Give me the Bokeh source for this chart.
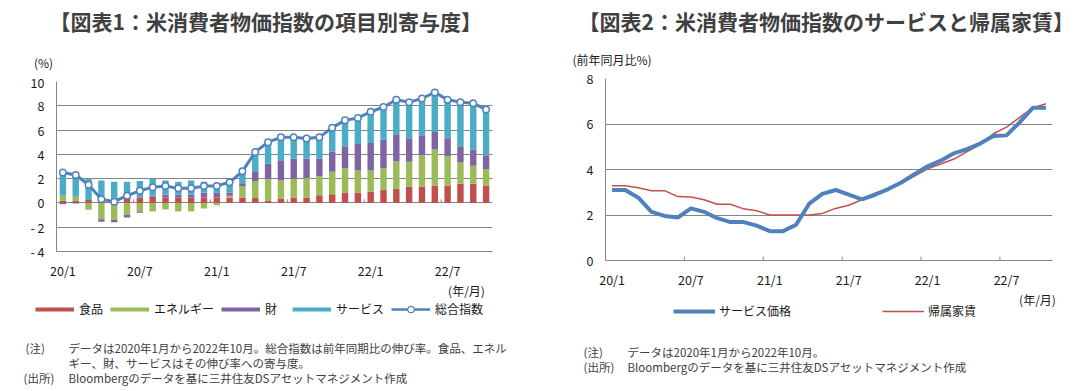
import numpy as np
from bokeh.plotting import figure
from bokeh.models import Range1d, FixedTicker, Label, Legend, LegendItem, Title
from bokeh.layouts import row, column
from bokeh.embed import file_html
from bokeh.resources import INLINE

# ---------------- data ----------------
tick_labels = ["20/1", "20/7", "21/1", "21/7", "22/1", "22/7"]
months = [f"{y}/{m}" for y in (20, 21, 22) for m in range(1, 13)][:34]

food = [0.2, 0.2, 0.25, 0.15, 0.45, 0.5, 0.45, 0.5, 0.45, 0.45, 0.45, 0.45,
        0.45, 0.45, 0.45, 0.4, 0.2, 0.37, 0.45, 0.45, 0.64, 0.72, 0.85, 0.85,
        0.93, 1.09, 1.17, 1.33, 1.33, 1.44, 1.44, 1.57, 1.57, 1.44]
energy = [0.4, 0.3, -0.5, -1.35, -1.4, -1.0, -0.7, -0.7, -0.55, -0.7, -0.7, -0.45,
          -0.2, 0.15, 0.9, 1.4, 1.75, 1.47, 1.55, 1.6, 1.55, 1.84, 2.0, 1.82,
          1.74, 1.76, 2.27, 2.06, 2.59, 2.96, 2.43, 1.76, 1.5, 1.36]
goods = [-0.1, -0.05, -0.05, -0.2, -0.2, -0.2, -0.1, 0.1, 0.25, 0.25, 0.25, 0.4,
         0.4, 0.25, 0.2, 0.8, 1.3, 1.68, 1.65, 1.6, 1.46, 1.68, 1.82, 2.18,
         2.26, 2.35, 2.21, 1.94, 1.65, 1.44, 1.46, 1.34, 1.33, 1.12]
services = [1.9, 1.8, 1.75, 1.7, 1.3, 1.25, 1.35, 1.4, 1.15, 1.05, 1.15, 0.9,
            0.75, 0.85, 1.05, 1.6, 1.75, 1.73, 1.68, 1.52, 1.79, 1.81, 2.05, 2.14,
            2.51, 2.59, 2.85, 2.91, 3.07, 3.23, 3.12, 3.68, 3.92, 3.79]
cpi = [2.5, 2.3, 1.5, 0.3, 0.1, 0.6, 1.0, 1.3, 1.4, 1.2, 1.2, 1.4,
       1.4, 1.7, 2.6, 4.2, 5.0, 5.4, 5.4, 5.3, 5.4, 6.2, 6.8, 7.0,
       7.5, 7.9, 8.5, 8.3, 8.6, 9.1, 8.5, 8.3, 8.2, 7.7]

service_price = [3.1, 3.1, 2.76, 2.14, 1.96, 1.89, 2.29, 2.14, 1.86, 1.69, 1.69, 1.53,
                 1.29, 1.29, 1.57, 2.5, 2.93, 3.1, 2.9, 2.69, 2.89, 3.14, 3.43, 3.79,
                 4.14, 4.39, 4.71, 4.9, 5.14, 5.47, 5.5, 6.07, 6.71, 6.71]
oer = [3.29, 3.29, 3.2, 3.07, 3.07, 2.81, 2.79, 2.67, 2.47, 2.47, 2.27, 2.19,
       2.0, 2.0, 2.0, 2.0, 2.07, 2.29, 2.43, 2.67, 2.96, 3.17, 3.39, 3.71,
       4.03, 4.24, 4.46, 4.79, 5.1, 5.57, 5.86, 6.29, 6.71, 6.89]

series_names = ["食品", "エネルギー", "財", "サービス"]
series_vals = [food, energy, goods, services]
series_cols = ["#C0504D", "#9BBB59", "#8064A2", "#4BACC6"]
total_name = "総合指数"
line_names = ["サービス価格", "帰属家賃"]

JP = "Noto Sans CJK JP"
GRID = "#868686"
TXT = "#1a1a1a"
NOTE = "#404040"
TITLE = "#404040"
BLUE = "#4F81BD"
RED = "#C0504D"
NOTE_SIZE = "11.5px"

idx = np.arange(len(months))
tick_pos = list(idx[::6])
boundaries = [i - 0.5 for i in tick_pos[1:]]
XR = (-0.5, 33.5)
NAN = [float("nan")]


def style_axes(p, ylabels):
    p.outline_line_color = None
    p.xgrid.visible = False
    p.ygrid.grid_line_color = GRID
    for ax in (p.xaxis[0], p.yaxis[0]):
        ax.major_tick_in = 0
        ax.major_tick_out = 0
        ax.minor_tick_in = 0
        ax.minor_tick_out = 0
        ax.axis_line_color = GRID
        ax.major_label_text_font = JP
        ax.major_label_text_font_size = "12.5px"
        ax.major_label_text_color = TXT
    p.xaxis.ticker = FixedTicker(ticks=tick_pos)
    p.xaxis.major_label_overrides = {int(t): l for t, l in zip(tick_pos, tick_labels)}
    p.xaxis.major_label_standoff = 9
    p.yaxis.ticker = FixedTicker(ticks=list(ylabels.keys()))
    p.yaxis.major_label_overrides = ylabels
    p.yaxis.major_label_standoff = 12


def blank(width, height, x0, y0):
    """Text canvas whose data coordinates equal page pixels."""
    f = figure(width=width, height=height, output_backend="svg", toolbar_location=None,
               x_range=Range1d(x0, x0 + width), y_range=Range1d(y0 + height, y0),
               x_axis_type=None, y_axis_type=None, min_border=0, frame_align=False)
    f.outline_line_color = None
    f.xgrid.visible = False
    f.ygrid.visible = False
    return f


def text(p, X, Y, s, size=NOTE_SIZE, color=NOTE, align="left", bold=False):
    p.add_layout(Label(x=X, y=Y, text=s, text_font=JP, text_font_size=size,
                       text_color=color, text_align=align, text_baseline="middle",
                       text_font_style="bold" if bold else "normal"))


def legend(items, loc, spacing, gw, standoff):
    return Legend(items=items, orientation="horizontal", location=loc, spacing=spacing,
                  glyph_width=gw, glyph_height=16, label_height=16, label_standoff=standoff,
                  padding=0, margin=0, border_line_alpha=0, background_fill_alpha=0,
                  label_text_font=JP, label_text_font_size="12px", label_text_color=TXT)


# ================= chart 1 (left half: x 0..548) =================
W1 = 548
top1 = blank(W1, 72, 0, 0)
text(top1, 49, 20, "【図表1：米消費者物価指数の項目別寄与度】", size="21px", color=TITLE, bold=True)
text(top1, 43, 62, "(%)", size="12px", color=TXT, align="center")

p1 = figure(width=W1, height=210, output_backend="svg", toolbar_location=None,
            x_range=Range1d(*XR), y_range=Range1d(-4, 10), frame_align=False,
            min_border_left=56, min_border_right=56, min_border_top=9, min_border_bottom=27)
style_axes(p1, {v: (f"- {abs(v)}" if v < 0 else str(v)) for v in range(-4, 11, 2)})

pos = np.zeros(len(idx))
neg = np.zeros(len(idx))
for vals, col in zip(series_vals, series_cols):
    v = np.array(vals)
    bottom = np.where(v >= 0, pos, neg + v)
    top = np.where(v >= 0, pos + v, neg)
    pos = np.where(v >= 0, pos + v, pos)
    neg = np.where(v < 0, neg + v, neg)
    p1.vbar(x=idx, bottom=bottom, top=top, width=0.5, fill_color=col, line_color=None)

p1.segment(x0=boundaries, y0=[0] * len(boundaries), x1=boundaries, y1=[0.3] * len(boundaries),
           line_color=GRID, line_width=1)
p1.line(idx, cpi, line_width=3, line_color=BLUE)
p1.scatter(idx, cpi, size=6.5, fill_color="white", line_color=BLUE, line_width=1.5)

bot1 = blank(W1, 109, 0, 282)
items = []
for name, col in zip(series_names, series_cols):
    r = bot1.line(x=NAN, y=NAN, line_color=col, line_width=4)
    items.append(LegendItem(label=name, renderers=[r]))
tl = bot1.line(x=NAN, y=NAN, line_color=BLUE, line_width=2.5)
ts = bot1.scatter(x=NAN, y=NAN, size=6, fill_color="white", line_color=BLUE, line_width=1.2)
items.append(LegendItem(label=total_name, renderers=[tl, ts]))
bot1.add_layout(legend(items, (35, 391 - 317), 7, 39, 5))
text(bot1, 466, 290, "(年/月)", size="12px", color=TXT, align="center")
text(bot1, 25, 347, "(注)")
text(bot1, 68, 347, "データは2020年1月から2022年10月。総合指数は前年同期比の伸び率。食品、エネル")
text(bot1, 68, 362, "ギー、財、サービスはその伸び率への寄与度。")
text(bot1, 23, 377, "(出所)")
text(bot1, 68, 377, "Bloombergのデータを基に三井住友DSアセットマネジメント作成")

# ================= chart 2 (right half: x 548..1087) =================
W2 = 539
X2 = 548
TOP2 = 36
top2 = blank(W2, TOP2, X2, 0)
text(top2, 578, 20, "【図表2：米消費者物価指数のサービスと帰属家賃】", size="21px", color=TITLE, bold=True)

p2 = figure(width=W2, height=291 - TOP2, output_backend="svg", toolbar_location=None,
            x_range=Range1d(*XR), y_range=Range1d(0, 8), frame_align=False,
            min_border_left=57, min_border_right=35, min_border_top=78 - TOP2, min_border_bottom=26)
style_axes(p2, {v: str(v) for v in range(0, 9, 2)})
p2.add_layout(Title(text="(前年同月比%)", align="left", offset=572 - 605, standoff=22,
                    text_font=JP, text_font_size="12px", text_font_style="normal",
                    text_color=TXT), "above")

p2.segment(x0=boundaries, y0=[0] * len(boundaries), x1=boundaries, y1=[0.17] * len(boundaries),
           line_color=GRID, line_width=1)
p2.line(idx, oer, line_width=1.5, line_color=RED)
p2.line(idx, service_price, line_width=4, line_color=BLUE)

bot2 = blank(W2, 100, X2, 291)
r_sp = bot2.line(x=NAN, y=NAN, line_width=4, line_color=BLUE)
r_oer = bot2.line(x=NAN, y=NAN, line_width=1.5, line_color=RED)
bot2.add_layout(legend([LegendItem(label=line_names[0], renderers=[r_sp]),
                        LegendItem(label=line_names[1], renderers=[r_oer])],
                       (673 - X2, 391 - 319), 91, 42, 4))
text(bot2, 1037, 299, "(年/月)", size="12px", color=TXT, align="center")
text(bot2, 583, 351, "(注)")
text(bot2, 627, 351, "データは2020年1月から2022年10月。")
text(bot2, 583, 366, "(出所)")
text(bot2, 627, 366, "Bloombergのデータを基に三井住友DSアセットマネジメント作成")

layout = row(column(top1, p1, bot1), column(top2, p2, bot2))
open("out.html", "w").write(file_html(layout, INLINE))
